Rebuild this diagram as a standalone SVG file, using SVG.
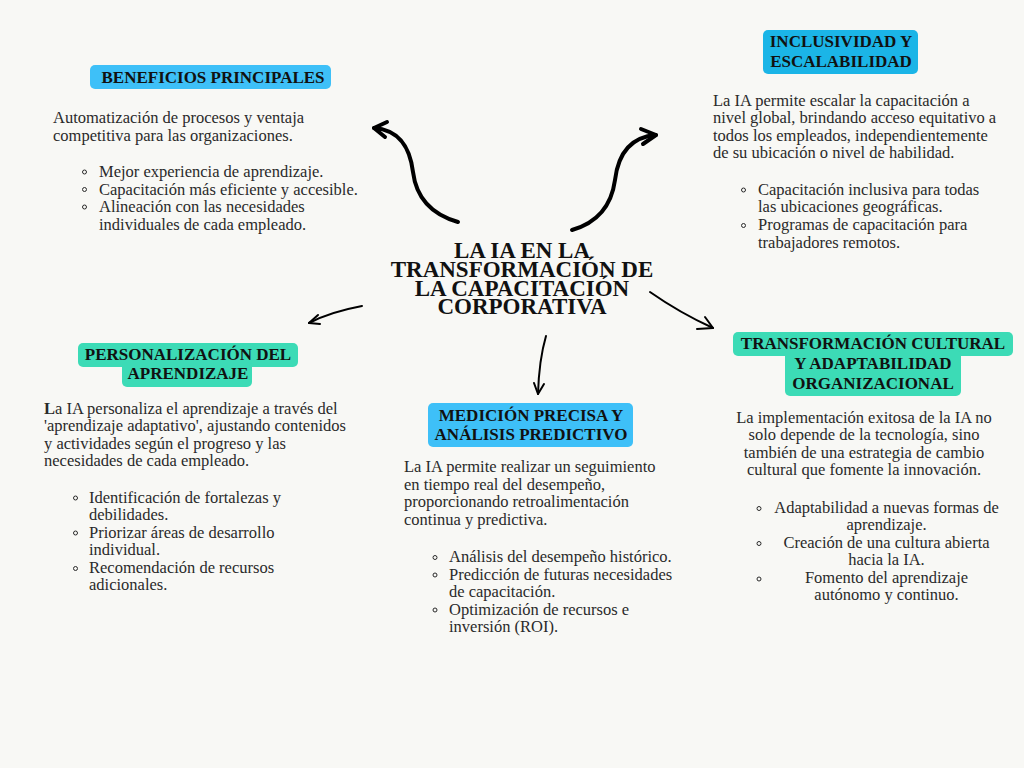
<svg xmlns="http://www.w3.org/2000/svg" width="1024" height="768" viewBox="0 0 1024 768">
<defs>
<style>
.bg{fill:#F8F8F5}
.hd{font-family:"Liberation Serif","Times New Roman",serif;font-weight:bold;font-size:17px;fill:#111;text-anchor:middle}
.tt{font-family:"Liberation Serif","Times New Roman",serif;font-weight:bold;font-size:23px;fill:#111;text-anchor:middle}
.bd{font-family:"Liberation Serif","Times New Roman",serif;font-size:16.5px;fill:#2a2a2a}
.ctr{text-anchor:middle}
.blue{fill:#3EC0F8}
.cyan{fill:#1BB5E7}
.teal{fill:#3CDBB6}
.dot{fill:none;stroke:#2a2a2a;stroke-width:1}
.thick{fill:none;stroke:#000;stroke-width:4;stroke-linecap:round;stroke-linejoin:round}
.thin{fill:none;stroke:#000;stroke-width:2;stroke-linecap:round;stroke-linejoin:round}
</style>
</defs>
<rect class="bg" x="0" y="0" width="1024" height="768"/>

<g id="connectors">
<path class="thick" d="M458,222 C430,214 416,196 413,172 C410,148 400,130 374,128"/>
<path class="thick" d="M387,122 L374,128 L385,137"/>
<path class="thick" d="M572,230 C600,222 612,202 615,180 C618,155 630,137 656,135"/>
<path class="thick" d="M641,129 L656,135 L643,144"/>
<path class="thin" d="M362,306 Q330,312 309,323"/>
<path class="thin" d="M318,315 L309,323 L320,324"/>
<path class="thin" d="M546,336 Q539,360 538,394"/>
<path class="thin" d="M534,383 L538,394 L544,384"/>
<path class="thin" d="M650,292 Q680,313 713,328"/>
<path class="thin" d="M705,317 L713,328 L697,329"/>
</g>

<g id="center">
<text class="tt"><tspan x="522" y="258">LA IA EN LA</tspan><tspan x="522" y="277">TRANSFORMACIÓN DE</tspan><tspan x="522" y="296">LA CAPACITACIÓN</tspan><tspan x="522" y="314">CORPORATIVA</tspan></text>
</g>

<g id="beneficios">
<rect class="blue" x="90" y="65" width="241" height="24" rx="5"/>
<text class="hd" x="213" y="83">BENEFICIOS PRINCIPALES</text>
<text class="bd" x="53" y="123">Automatización de procesos y ventaja</text>
<text class="bd" x="53" y="141">competitiva para las organizaciones.</text>
<circle class="dot" cx="84.5" cy="172" r="2"/>
<circle class="dot" cx="84.5" cy="189.5" r="2"/>
<circle class="dot" cx="84.5" cy="207" r="2"/>
<text class="bd" x="99" y="177">Mejor experiencia de aprendizaje.</text>
<text class="bd" x="99" y="194.5">Capacitación más eficiente y accesible.</text>
<text class="bd" x="99" y="212">Alineación con las necesidades</text>
<text class="bd" x="99" y="229.5">individuales de cada empleado.</text>
</g>

<g id="inclusividad">
<rect class="cyan" x="763" y="30" width="155" height="44" rx="5"/>
<text class="hd" x="841" y="47">INCLUSIVIDAD Y</text>
<text class="hd" x="841" y="67">ESCALABILIDAD</text>
<text class="bd" x="713" y="106">La IA permite escalar la capacitación a</text>
<text class="bd" x="713" y="123.3">nivel global, brindando acceso equitativo a</text>
<text class="bd" x="713" y="140.6">todos los empleados, independientemente</text>
<text class="bd" x="713" y="158">de su ubicación o nivel de habilidad.</text>
<circle class="dot" cx="743.5" cy="190" r="2"/>
<circle class="dot" cx="743.5" cy="225.5" r="2"/>
<text class="bd" x="758" y="194.5">Capacitación inclusiva para todas</text>
<text class="bd" x="758" y="212">las ubicaciones geográficas.</text>
<text class="bd" x="758" y="230">Programas de capacitación para</text>
<text class="bd" x="758" y="247.5">trabajadores remotos.</text>
</g>

<g id="personalizacion">
<rect class="teal" x="78" y="343" width="220" height="24" rx="5"/>
<rect class="teal" x="122" y="362" width="130" height="25" rx="5"/>
<text class="hd" x="188" y="360">PERSONALIZACIÓN DEL</text>
<text class="hd" x="188" y="379">APRENDIZAJE</text>
<text class="bd" x="44" y="413.5"><tspan font-weight="bold">L</tspan>a IA personaliza el aprendizaje a través del</text>
<text class="bd" x="44" y="431">'aprendizaje adaptativo', ajustando contenidos</text>
<text class="bd" x="44" y="448.5">y actividades según el progreso y las</text>
<text class="bd" x="44" y="466">necesidades de cada empleado.</text>
<circle class="dot" cx="75.5" cy="498" r="2"/>
<circle class="dot" cx="75.5" cy="533" r="2"/>
<circle class="dot" cx="75.5" cy="568.5" r="2"/>
<text class="bd" x="89" y="502.5">Identificación de fortalezas y</text>
<text class="bd" x="89" y="520">debilidades.</text>
<text class="bd" x="89" y="537.5">Priorizar áreas de desarrollo</text>
<text class="bd" x="89" y="555">individual.</text>
<text class="bd" x="89" y="572.5">Recomendación de recursos</text>
<text class="bd" x="89" y="590">adicionales.</text>
</g>

<g id="medicion">
<rect class="blue" x="428" y="403" width="205" height="44" rx="5"/>
<text class="hd" x="531" y="421">MEDICIÓN PRECISA Y</text>
<text class="hd" x="531" y="439.5">ANÁLISIS PREDICTIVO</text>
<text class="bd" x="404" y="472">La IA permite realizar un seguimiento</text>
<text class="bd" x="404" y="489.5">en tiempo real del desempeño,</text>
<text class="bd" x="404" y="507">proporcionando retroalimentación</text>
<text class="bd" x="404" y="524.5">continua y predictiva.</text>
<circle class="dot" cx="435" cy="557.5" r="2"/>
<circle class="dot" cx="435" cy="575" r="2"/>
<circle class="dot" cx="435" cy="610" r="2"/>
<text class="bd" x="449" y="562">Análisis del desempeño histórico.</text>
<text class="bd" x="449" y="579.5">Predicción de futuras necesidades</text>
<text class="bd" x="449" y="597">de capacitación.</text>
<text class="bd" x="449" y="614.5">Optimización de recursos e</text>
<text class="bd" x="449" y="632">inversión (ROI).</text>
</g>

<g id="transformacion">
<rect class="teal" x="733" y="332" width="280" height="24" rx="5"/>
<rect class="teal" x="785" y="350" width="176" height="46" rx="5"/>
<text class="hd" x="873" y="348.5">TRANSFORMACIÓN CULTURAL</text>
<text class="hd" x="873" y="368.5">Y ADAPTABILIDAD</text>
<text class="hd" x="873" y="388.5">ORGANIZACIONAL</text>
<text class="bd ctr" x="864" y="423">La implementación exitosa de la IA no</text>
<text class="bd ctr" x="864" y="440.3">solo depende de la tecnología, sino</text>
<text class="bd ctr" x="864" y="457.6">también de una estrategia de cambio</text>
<text class="bd ctr" x="864" y="475">cultural que fomente la innovación.</text>
<circle class="dot" cx="759" cy="508.5" r="2"/>
<circle class="dot" cx="759" cy="543.5" r="2"/>
<circle class="dot" cx="759" cy="579" r="2"/>
<text class="bd ctr" x="886.5" y="513">Adaptabilidad a nuevas formas de</text>
<text class="bd ctr" x="886.5" y="530.3">aprendizaje.</text>
<text class="bd ctr" x="886.5" y="548">Creación de una cultura abierta</text>
<text class="bd ctr" x="886.5" y="565.3">hacia la IA.</text>
<text class="bd ctr" x="886.5" y="583">Fomento del aprendizaje</text>
<text class="bd ctr" x="886.5" y="600.3">autónomo y continuo.</text>
</g>
</svg>
